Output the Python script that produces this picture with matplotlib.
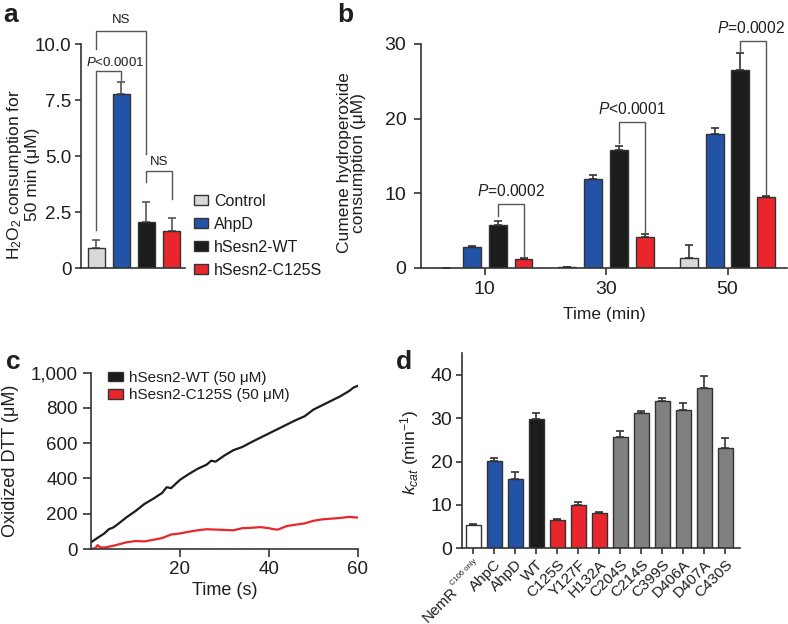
import matplotlib
matplotlib.use("Agg")
import matplotlib.pyplot as plt
from matplotlib.patches import Patch
from matplotlib.transforms import offset_copy
import numpy as np

plt.rcParams['font.family'] = ['Liberation Sans', 'DejaVu Sans']
plt.rcParams['mathtext.fontset'] = 'custom'
plt.rcParams['mathtext.rm'] = 'Liberation Sans'
plt.rcParams['mathtext.it'] = 'Liberation Sans:italic'
plt.rcParams['mathtext.bf'] = 'Liberation Sans:bold'

# ---------------- data ----------------
# panel a
a_labels = ["Control", "AhpD", "hSesn2-WT", "hSesn2-C125S"]
a_values = [0.89, 7.8, 2.08, 1.68]
a_errors = [0.37, 0.5, 0.9, 0.58]

# panel b
b_times = [10, 30, 50]
b_control = [0.0, 0.15, 1.4]
b_control_err = [0.0, 0.05, 1.7]
b_ahpd = [2.85, 11.9, 18.0]
b_ahpd_err = [0.1, 0.5, 0.8]
b_wt = [5.7, 15.8, 26.5]
b_wt_err = [0.55, 0.55, 2.3]
b_c125s = [1.25, 4.2, 9.45]
b_c125s_err = [0.12, 0.35, 0.2]

# panel c
c_time_wt = [0, 1, 2, 3, 4, 5, 6, 8, 10, 12, 14, 16, 17, 18, 20, 22, 24, 26, 27, 28, 30,
             32, 34, 36, 38, 40, 42, 44, 46, 48, 50, 52, 54, 56, 58, 59, 60]
c_wt = [38, 55, 72, 88, 112, 122, 140, 180, 215, 255, 285, 318, 350, 345, 392, 425, 455, 478, 500, 495, 530,
        560, 578, 605, 630, 655, 680, 705, 730, 752, 790, 815, 840, 865, 895, 915, 925]
c_time_mut = [0, 1, 1.5, 2, 3, 5, 8, 10, 12, 14, 16, 18, 20, 22, 24, 26, 28, 30, 32, 34, 36,
              38, 40, 41, 42, 44, 46, 48, 50, 52, 54, 56, 58, 60]
c_mut = [0, 5, 22, 10, 8, 18, 38, 45, 43, 52, 62, 82, 88, 98, 106, 112, 110, 108, 106, 118, 120,
         124, 118, 112, 110, 130, 138, 145, 160, 168, 172, 176, 182, 178]

# panel d
d_labels = ["NemR", "AhpC", "AhpD", "WT", "C125S", "Y127F", "H132A",
            "C204S", "C214S", "C399S", "D406A", "D407A", "C430S"]
d_first_sup = "C106 only"
d_values = [5.4, 20.2, 16.1, 29.8, 6.5, 10.0, 8.2, 25.8, 31.3, 33.9, 32.0, 36.9, 23.2]
d_errors = [0.2, 0.6, 1.4, 1.5, 0.15, 0.6, 0.25, 1.3, 0.35, 0.9, 1.6, 2.8, 2.3]

# ---------------- style ----------------
BLUE = "#2353a6"
RED = "#e8262b"
BLACK = "#1c1c1c"
LGRAY = "#d9d9d9"
GRAY = "#808080"
EDGE = "#333333"
TXT = "#1e1e1e"
LINEC = "#555555"
LABEL_FS = 12.5

W, H = 788, 624
fig = plt.figure(figsize=(W / 100, H / 100), dpi=100)


def ax_px(left, top, right, bottom):
    return fig.add_axes([left / W, 1 - bottom / H, (right - left) / W, (bottom - top) / H])


def style(ax, size=14, length=4.5, pad=3):
    for s in ["top", "right"]:
        ax.spines[s].set_visible(False)
    for s in ["left", "bottom"]:
        ax.spines[s].set_color(EDGE)
        ax.spines[s].set_linewidth(1.2)
    ax.tick_params(colors=EDGE, labelcolor=TXT, labelsize=size, width=1.2, length=length, pad=pad)


def bracket(ax, x1, y1, x2, y2, ytop, color=LINEC):
    ax.plot([x1, x1, x2, x2], [y1, ytop, ytop, y2], color=color, lw=1.0, clip_on=False,
            solid_joinstyle='miter')


# ---------------- panel a ----------------
axa = ax_px(81, 44.3, 185, 268.3)
style(axa, size=13.5, length=4.5, pad=2.5)
xa = np.arange(len(a_values))
colors_a = [LGRAY, BLUE, BLACK, RED]
axa.bar(xa, a_values, width=0.68, color=colors_a, edgecolor=EDGE, linewidth=1.0, zorder=2)
axa.errorbar(xa, a_values, yerr=[np.zeros(len(a_errors)), a_errors], fmt='none',
             ecolor=LINEC, elinewidth=1.2, capsize=3, capthick=1.2, zorder=1)
axa.set_xlim(-0.6, 3.53)
axa.set_ylim(0, 10)
axa.set_yticks([0, 2.5, 5.0, 7.5, 10.0])
axa.set_yticklabels(["0", "2.5", "5.0", "7.5", "10.0"])
axa.set_xticks([])
axa.set_ylabel("H$_2$O$_2$ consumption for\n50 min (\u03bcM)", fontsize=LABEL_FS, color=TXT,
               linespacing=1.05)
axa.yaxis.set_label_coords((40 - 81) / 104, 0.42)
bracket(axa, 0, 1.7, 1, 8.4, 8.82)
axa.text(-0.39, 9.2, "$\\mathit{P}$<0.0001", fontsize=9.5, color=TXT, ha='left', va='center')
bracket(axa, 0, 9.8, 2, 5.1, 10.6)
axa.text(1, 11.1, "NS", fontsize=9.5, color=TXT, ha='center', va='center')
bracket(axa, 2, 3.87, 3, 3.1, 4.36)
axa.text(2.5, 4.75, "NS", fontsize=9.5, color=TXT, ha='center', va='center')

handles_a = [Patch(facecolor=c, edgecolor=EDGE, linewidth=1.0) for c in colors_a]
fig.legend(handles_a, a_labels, loc='upper left', bbox_to_anchor=(194 / W, 1 - 194 / H),
           frameon=False, fontsize=11.5, handlelength=0.9, handleheight=0.6, handletextpad=0.35,
           labelspacing=0.5, borderaxespad=0, borderpad=0, labelcolor=TXT)

# ---------------- panel b ----------------
axb = ax_px(421, 44, 787, 268)
style(axb, size=14, length=5, pad=5.5)
off = 2.13
wb = 2.95
bt = np.array(b_times, dtype=float)
series_b = [(b_control, b_control_err, LGRAY, -3 * off),
            (b_ahpd, b_ahpd_err, BLUE, -off),
            (b_wt, b_wt_err, BLACK, off),
            (b_c125s, b_c125s_err, RED, 3 * off)]
for vals, errs, col, dx in series_b:
    axb.bar(bt + dx, vals, width=wb, color=col, edgecolor=EDGE, linewidth=1.0, zorder=2)
    axb.errorbar(bt + dx, vals, yerr=[np.zeros(len(errs)), errs], fmt='none',
                 ecolor=EDGE, elinewidth=1.2, capsize=3, capthick=1.2, zorder=1)
axb.set_xlim(-0.5, 59.8)
axb.set_ylim(0, 30)
axb.set_yticks([0, 10, 20, 30])
axb.set_xticks(b_times)
axb.tick_params(axis='x', pad=4)
axb.set_xlabel("Time (min)", fontsize=LABEL_FS, color=TXT, labelpad=7)
axb.set_ylabel("Cumene hydroperoxide\nconsumption (\u03bcM)", fontsize=LABEL_FS, color=TXT,
               linespacing=0.95)
axb.yaxis.set_label_coords((366 - 421) / 366, 0.47)
# brackets
bracket(axb, 10 + off, 6.9, 10 + 3 * off, 1.6, 8.6)
axb.text(10 + 2 * off, 10.3, "$\\mathit{P}$=0.0002", fontsize=11.2, color=TXT, ha='center', va='center')
bracket(axb, 30 + off, 16.8, 30 + 3 * off, 4.8, 19.6)
axb.text(30 + 2 * off, 21.3, "$\\mathit{P}$<0.0001", fontsize=11.2, color=TXT, ha='center', va='center')
bracket(axb, 50 + off, 29.1, 50 + 3 * off, 9.9, 30.4)
axb.text(50 + 2 * off - 0.4, 32.1, "$\\mathit{P}$=0.0002", fontsize=11.2, color=TXT, ha='center', va='center')

# ---------------- panel c ----------------
axc = ax_px(91, 372.5, 358, 549)
style(axc, size=13.5, length=5.5, pad=4)
axc.plot(c_time_wt, c_wt, color=BLACK, lw=1.6)
axc.plot(c_time_mut, c_mut, color=RED, lw=1.6)
axc.set_xlim(0, 60)
axc.set_ylim(0, 1000)
axc.set_xticks([20, 40, 60])
axc.set_yticks([0, 200, 400, 600, 800, 1000])
axc.set_yticklabels(["0", "200", "400", "600", "800", "1,000"])
axc.tick_params(axis='x', pad=3)
axc.set_xlabel("Time (s)", fontsize=13, color=TXT, labelpad=3)
axc.set_ylabel("Oxidized DTT (\u03bcM)", fontsize=13, color=TXT)
axc.yaxis.set_label_coords((19 - 91) / 267, 0.5)
handles_c = [Patch(facecolor=BLACK, edgecolor=EDGE), Patch(facecolor=RED, edgecolor=EDGE)]
axc.legend(handles_c, ["hSesn2-WT (50 \u03bcM)", "hSesn2-C125S (50 \u03bcM)"], loc='upper left',
           bbox_to_anchor=(108 / W, 1 - 371 / H), bbox_transform=fig.transFigure,
           frameon=False, fontsize=11, handlelength=1.0, handleheight=0.6, handletextpad=0.4,
           labelspacing=0.2, borderaxespad=0, borderpad=0, labelcolor=TXT)

# ---------------- panel d ----------------
axd = ax_px(462, 353.3, 740, 548.3)
style(axd, size=14, length=4.5, pad=2.5)
xd = np.arange(len(d_values))
colors_d = ["white", BLUE, BLUE, BLACK, RED, RED, RED] + [GRAY] * 6
axd.bar(xd, d_values, width=0.7, color=colors_d, edgecolor=EDGE, linewidth=1.0, zorder=2)
axd.errorbar(xd, d_values, yerr=[np.zeros(len(d_errors)), d_errors], fmt='none',
             ecolor=EDGE, elinewidth=1.2, capsize=3, capthick=1.2, zorder=1)
axd.set_xlim(-0.54, 12.7)
axd.set_ylim(0, 45)
axd.set_yticks([0, 10, 20, 30, 40])
axd.set_xticks(xd)
axd.set_xticklabels([""] + d_labels[1:], rotation=45, ha='right', rotation_mode='anchor', fontsize=11)
axd.tick_params(axis='x', pad=2)
axd.set_ylabel("$\\mathit{k}_{\\mathit{cat}}$ (min$^{-1}$)", fontsize=LABEL_FS, color=TXT)
axd.yaxis.set_label_coords((421 - 462) / 278, 0.49)
# first label: NemR with small superscript
base = axd.get_xaxis_transform()
t_sup = offset_copy(base, fig=fig, x=0, y=-6.5, units='points')
axd.text(0, 0, d_first_sup, transform=t_sup, fontsize=5.5, color=TXT, rotation=45,
         ha='right', va='top', rotation_mode='anchor')
sup_len = 25.5  # points, approximate length of superscript text
d = sup_len / np.sqrt(2)
t_main = offset_copy(base, fig=fig, x=-d + 1.5, y=-6.5 - d - 1.5, units='points')
axd.text(0, 0, d_labels[0], transform=t_main, fontsize=11, color=TXT, rotation=45,
         ha='right', va='top', rotation_mode='anchor')

# panel letters
for lab, x, y in [("a", 3, 15), ("b", 337, 15), ("c", 6, 362), ("d", 396, 362)]:
    fig.text(x / W, 1 - y / H, lab, fontsize=19, fontweight='bold', color=TXT, ha='left', va='center')

fig.savefig("out.png", dpi=100, facecolor='white')
